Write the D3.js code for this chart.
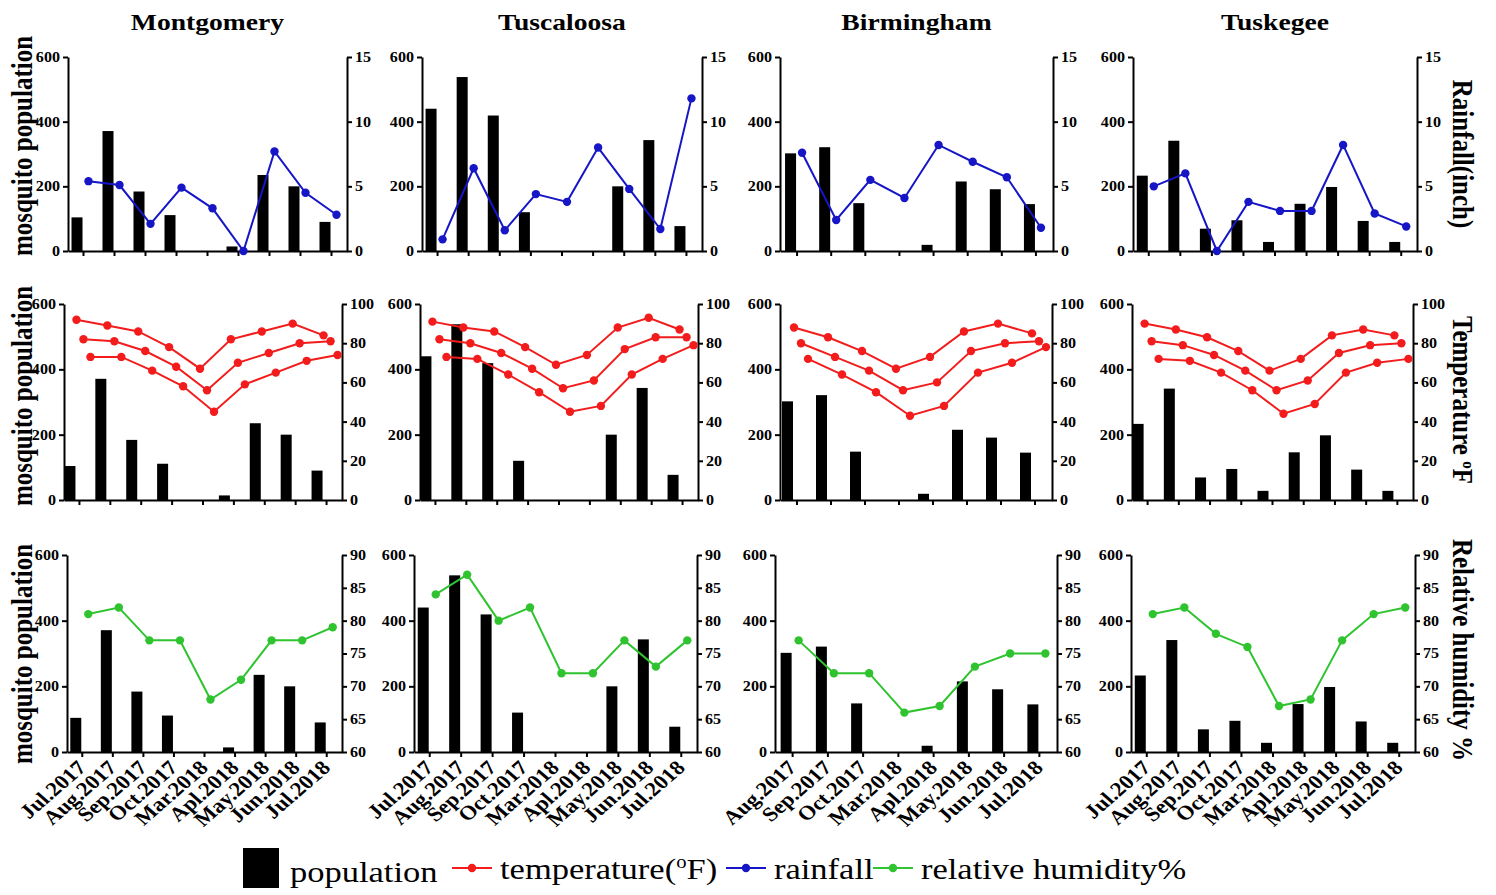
<!DOCTYPE html>
<html>
<head>
<meta charset="utf-8">
<script src="https://cdn.jsdelivr.net/npm/d3@7/dist/d3.min.js"></script>
<style>
  body { margin: 0; background: #fff; }
  svg { display: block; background: #fff; }
  .eixo path, .eixo line { stroke: #000; stroke-width: 2; }
  .eixo text { font-family: "Liberation Serif", "Times New Roman", serif; font-weight: bold; font-size: 14px; fill: #000; }
</style>
</head>
<body>
<script>
// Cidades e meses de coleta (Birmingham sem Jul.2017)
var cidades = ["Montgomery", "Tuscaloosa", "Birmingham", "Tuskegee"];
var mesesCompletos = ["Jul.2017", "Aug.2017", "Sep.2017", "Oct.2017", "Mar.2018",
                      "Apl.2018", "May.2018", "Jun.2018", "Jul.2018"];
var mesesBirmingham = ["Aug.2017", "Sep.2017", "Oct.2017", "Mar.2018",
                       "Apl.2018", "May.2018", "Jun.2018", "Jul.2018"];
var meses = [mesesCompletos, mesesCompletos, mesesBirmingham, mesesCompletos];

// Populacao de mosquitos (barras), uma lista por cidade
var populacao = [
  [104, 371, 184, 111, 0, 14, 235, 200, 90],
  [440, 538, 419, 120, 0, 0, 200, 343, 77],
  [302, 321, 148, 0, 19, 215, 191, 145],
  [233, 341, 69, 95, 28, 146, 198, 93, 28]
];
// Chuva (polegadas)
var chuva = [
  [5.4, 5.1, 2.1, 4.9, 3.3, 0, 7.7, 4.5, 2.8],
  [0.9, 6.4, 1.6, 4.4, 3.8, 8.0, 4.8, 1.7, 11.8],
  [7.6, 2.4, 5.5, 4.1, 8.2, 6.9, 5.7, 1.8],
  [5.0, 6.0, 0, 3.8, 3.1, 3.1, 8.2, 2.9, 1.9]
];
// Temperaturas (oF): maxima, media e minima
var tempMax = [
  [92, 89, 86, 78, 67, 82, 86, 90, 84],
  [91, 88, 86, 78, 69, 74, 88, 93, 87],
  [88, 83, 76, 67, 73, 86, 90, 85],
  [90, 87, 83, 76, 66, 72, 84, 87, 84]
];
var tempMed = [
  [82, 81, 76, 68, 56, 70, 75, 80, 81],
  [82, 80, 75, 67, 57, 61, 77, 83, 83],
  [80, 73, 66, 56, 60, 76, 80, 81],
  [81, 79, 74, 66, 56, 61, 75, 79, 80]
];
var tempMin = [
  [73, 73, 66, 58, 45, 59, 65, 71, 74],
  [73, 72, 64, 55, 45, 48, 64, 72, 79],
  [72, 64, 55, 43, 48, 65, 70, 78],
  [72, 71, 65, 56, 44, 49, 65, 70, 72]
];
// Umidade relativa (%)
var umidade = [
  [81, 82, 77, 77, 68, 71, 77, 77, 79],
  [84, 87, 80, 82, 72, 72, 77, 73, 77],
  [77, 72, 72, 66, 67, 73, 75, 75],
  [81, 82, 78, 76, 67, 68, 77, 81, 82]
];

var ticksPop = [0, 200, 400, 600];
var ticksChuva = [0, 5, 10, 15];
var ticksTemp = [0, 20, 40, 60, 80, 100];
var ticksUmidade = [60, 65, 70, 75, 80, 85, 90];

// A figura original foi esticada na horizontal: os textos tambem
const ESTICA = 1.15;
const fonte = '"Liberation Serif", "Times New Roman", serif';

// Linhas da grade de paineis
var linhas = [
  { series: [chuva], dominio: [0, 15], ticks: ticksChuva, cor: "#1616c6",
    desloc: [5], barra: -12, topo: 57, base: 251, rotulo: 146,
    molduras: [[68, 347], [422, 702], [780, 1053], [1133, 1417]] },
  { series: [tempMax, tempMed, tempMin], dominio: [0, 100], ticks: ticksTemp, cor: "#f31c1c",
    desloc: [-3, 4, 11], barra: -15, topo: 304, base: 500, rotulo: 396,
    molduras: [[64, 342], [420, 698], [780, 1052], [1132, 1413]] },
  { series: [umidade], dominio: [60, 90], ticks: ticksUmidade, cor: "#2fc42f",
    desloc: [6], barra: -12, topo: 555, base: 752, rotulo: 654,
    molduras: [[67, 342], [414, 697], [775, 1057], [1131, 1415]] }
];

var svg = d3.select("body").append("svg")
    .attr("width", 1496)
    .attr("height", 895);

function escreve(g, x, y, conteudo, tamanho, peso, ancora, angulo) {
  return g.append("text")
    .attr("transform", "translate(" + x + "," + y + ") scale(" + ESTICA + ",1) rotate(" + (angulo || 0) + ")")
    .attr("text-anchor", ancora)
    .style("font-family", fonte)
    .style("font-size", tamanho + "px")
    .style("font-weight", peso)
    .style("fill", "#000")
    .text(conteudo);
}

// Estica os rotulos de um eixo mantendo a ancora
function esticaRotulos(g) {
  g.selectAll(".tick text").each(function() {
    var t = d3.select(this);
    var x0 = +t.attr("x") || 0;
    t.attr("x", null).attr("transform", "translate(" + x0 + ",0) scale(" + ESTICA + ",1)");
  });
}

linhas.forEach(function(linha, r) {
  cidades.forEach(function(cidade, c) {
    var L = linha.molduras[c][0], R = linha.molduras[c][1];
    var g = svg.append("g");

    var x = d3.scaleBand().domain(meses[c]).range([L, R]);
    var yPop = d3.scaleLinear().domain([0, 600]).range([linha.base, linha.topo]);
    var yDir = d3.scaleLinear().domain(linha.dominio).range([linha.base, linha.topo]);
    var centro = function(m) { return x(m) + x.bandwidth() / 2; };

    // barras da populacao
    g.selectAll("rect")
      .data(populacao[c])
      .enter().append("rect")
        .attr("x", function(d, i) { return centro(meses[c][i]) + linha.barra; })
        .attr("width", 11)
        .attr("y", function(d) { return yPop(d); })
        .attr("height", function(d) { return yPop(0) - yPop(d); })
        .attr("fill", "#000");

    // eixos
    var eLeft = g.append("g").attr("class", "eixo")
        .attr("transform", "translate(" + L + ",0)")
        .call(d3.axisLeft(yPop).tickValues(ticksPop).tickSize(5).tickSizeOuter(0).tickPadding(3));
    esticaRotulos(eLeft);

    var eRight = g.append("g").attr("class", "eixo")
        .attr("transform", "translate(" + R + ",0)")
        .call(d3.axisRight(yDir).tickValues(linha.ticks).tickSize(5).tickSizeOuter(0).tickPadding(3));
    esticaRotulos(eRight);

    var eBase = g.append("g").attr("class", "eixo")
        .attr("transform", "translate(0," + linha.base + ")")
        .call(d3.axisBottom(x).tickSize(5).tickSizeOuter(0)
              .tickFormat(r == 2 ? null : ""));
    if (r == 2) {
      eBase.selectAll(".tick text")
        .attr("x", null).attr("y", null).attr("dy", null)
        .attr("text-anchor", "end")
        .attr("transform", "translate(5,17) scale(" + ESTICA + ",1) rotate(-45)")
        .style("font-size", "20px");
    }

    // series de linha com marcadores
    linha.series.forEach(function(serie, s) {
      var pts = serie[c].map(function(v, i) {
        return [centro(meses[c][i]) + linha.desloc[s], yDir(v)];
      });
      g.append("path")
        .attr("d", d3.line()(pts))
        .attr("fill", "none")
        .attr("stroke", linha.cor)
        .attr("stroke-width", 2);
      g.selectAll(null)
        .data(pts)
        .enter().append("circle")
          .attr("cx", function(p) { return p[0]; })
          .attr("cy", function(p) { return p[1]; })
          .attr("r", 4.2)
          .attr("fill", linha.cor);
    });

    if (r == 0)
      escreve(svg, (L + R) / 2, 30, cidade, 24, "bold", "middle");
    if (c == 0)
      escreve(svg, 22, linha.rotulo, "mosquito population", 25, "bold", "middle", -90)
        .attr("dy", "0.35em");
  });
});

// Titulos do eixo direito
escreve(svg, 1463, 154, "Rainfall(inch)", 25, "bold", "middle", 90).attr("dy", "0.35em");
var tTemp = escreve(svg, 1463, 400, "Temperature ", 25, "bold", "middle", 90).attr("dy", "0.35em");
tTemp.append("tspan").attr("dy", "-9").style("font-size", "15px").text("o");
tTemp.append("tspan").attr("dy", "9").text("F");
escreve(svg, 1463, 650, "Relative humidity %", 25, "bold", "middle", 90).attr("dy", "0.35em");

// Legenda
var legenda = [
  { tipo: "barra", cor: "#000", x: 243, texto: "population" },
  { tipo: "linha", cor: "#f31c1c", x: 452, texto: "temperature(" },
  { tipo: "linha", cor: "#1616c6", x: 726, texto: "rainfall" },
  { tipo: "linha", cor: "#2fc42f", x: 873, texto: "relative humidity%" }
];
var yLeg = 868;
legenda.forEach(function(item, i) {
  var t;
  if (item.tipo == "barra") {
    svg.append("rect").attr("x", item.x).attr("y", yLeg - 20)
      .attr("width", 36).attr("height", 40).attr("fill", item.cor);
    t = escreve(svg, item.x + 47, yLeg + 14, item.texto, 30, "normal", "start");
  } else {
    svg.append("line").attr("x1", item.x).attr("x2", item.x + 40)
      .attr("y1", yLeg).attr("y2", yLeg)
      .attr("stroke", item.cor).attr("stroke-width", 2);
    svg.append("circle").attr("cx", item.x + 20).attr("cy", yLeg).attr("r", 4.2).attr("fill", item.cor);
    t = escreve(svg, item.x + 48, yLeg + 11, item.texto, 30, "normal", "start");
  }
  if (i == 1) {
    t.append("tspan").attr("dy", "-11").style("font-size", "18px").text("o");
    t.append("tspan").attr("dy", "11").text("F)");
  }
});
</script>
</body>
</html>
